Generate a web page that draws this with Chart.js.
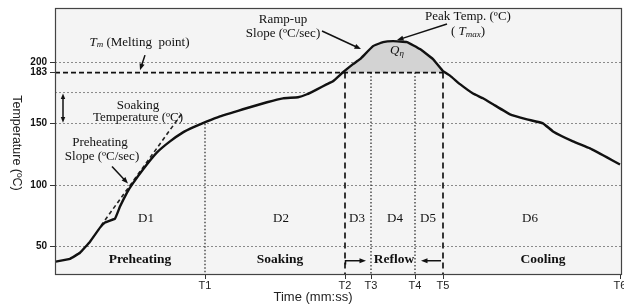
<!DOCTYPE html>
<html>
<head>
<meta charset="utf-8">
<script src="https://cdn.jsdelivr.net/npm/chart.js@4.4.1/dist/chart.umd.min.js"></script>
<style>
  body { margin: 0; background: #fff; }
</style>
</head>
<body>
<canvas id="chart" width="624" height="305"></canvas>
<script>
// time axis has no real units in the figure, so T marks are just positions along it
const timeMarks = [150, 290, 316, 360, 388, 565];
const timeLabels = ["T1", "T2", "T3", "T4", "T5", "T6"];

// the figure draws its "183" line higher than a true 183 would be, keep it where it is drawn
const MELT = 191.5;
const SOAK_TOP = 175.3;
const tempTicks = [50, 100, 150, MELT, 200];
const tempLabels = ["50", "100", "150", "183", "200"];

// reflow profile
const profileTime = [0, 15, 25, 35, 45, 50, 60, 65, 72, 77, 88, 102, 115, 128, 138, 152, 165, 178, 188,
  212, 228, 243, 252, 262, 272, 278, 288, 298, 305, 318, 328, 338, 352, 365, 378, 388, 395, 405,
  418, 428, 438, 455, 472, 488, 498, 518, 535, 552, 565];
const profileTemp = [37.8, 40.2, 45.1, 54.1, 65.5, 69.6, 72.8, 82.6, 94.0, 100.5, 112.8, 126.6, 135.6, 142.9, 147.0, 151.9, 156.0, 159.2, 161.7,
  167.4, 170.6, 171.5, 173.9, 177.9, 182.1, 184.5, 191.8, 198.4, 202.4, 213.0, 216.3, 217.1, 216.3, 210.6, 202.4, 192.7, 189.0, 182.1,
  174.5, 170.6, 165.8, 157.6, 153.5, 150.3, 143.7, 135.6, 129.9, 122.6, 116.8];

// preheating slope tangent
const tangentTime = [46, 127];
const tangentTemp = [67.1, 158.4];

// vertical markers: where each one starts at the top
const markerTop = [150, MELT, MELT, MELT, MELT];
const markerDashed = [false, true, false, false, true];

const serif = "'Liberation Serif', 'Times New Roman', serif";
const sans = "'Liberation Sans', Arial, sans-serif";

const notes = [
  { text: "Soaking", t: 83, v: 165 },
  { text: "Temperature (ºC)", t: 83, v: 155.3 },
  { text: "Preheating", t: 45, v: 134.8 },
  { text: "Slope (ºC/sec)", t: 47, v: 123.4 },
  { text: "Ramp-up", t: 228, v: 234.2 },
  { text: "Slope (ºC/sec)", t: 228, v: 223.6 },
  { text: "Peak Temp. (ºC)", t: 413, v: 236.7 },
  { text: "D1", t: 91, v: 72.8 },
  { text: "D2", t: 226, v: 72.8 },
  { text: "D3", t: 302, v: 72.8 },
  { text: "D4", t: 340, v: 72.8 },
  { text: "D5", t: 373, v: 72.8 },
  { text: "D6", t: 475, v: 72.8 },
  { text: "Preheating", t: 85, v: 39.4, bold: true },
  { text: "Soaking", t: 225, v: 39.4, bold: true },
  { text: "Reflow", t: 339, v: 39.4, bold: true },
  { text: "Cooling", t: 488, v: 39.4, bold: true }
];

const arrows = [
  [90, 205.7, 85, 193.5],
  [57, 115.2, 73, 101.4],
  [267, 225.3, 306, 210.6],
  [392, 231.0, 342, 217.9],
  [291, 38.6, 311, 38.6],
  [386, 38.6, 366, 38.6]
];

function pts(xs, ys) {
  return xs.map((x, i) => ({ x: x, y: ys[i] }));
}

const datasets = [];

datasets.push({
  data: pts(profileTime, profileTemp),
  borderColor: "#111",
  borderWidth: 2.4,
  tension: 0.08,
  pointRadius: 0,
  order: 0
});

// Q area between the curve and the 183 line
const areaTime = [timeMarks[1]];
const areaTemp = [MELT];
profileTime.forEach((t, i) => {
  if (t > timeMarks[1] && t < timeMarks[4]) {
    areaTime.push(t);
    areaTemp.push(profileTemp[i]);
  }
});
areaTime.push(timeMarks[4]);
areaTemp.push(MELT);
datasets.push({
  data: pts(areaTime, areaTemp),
  borderWidth: 0,
  borderColor: "rgba(0,0,0,0)",
  backgroundColor: "#d3d3d3",
  fill: { value: MELT },
  tension: 0.08,
  pointRadius: 0,
  order: 8
});

datasets.push({
  data: pts([0, timeMarks[4]], [MELT, MELT]),
  borderColor: "#111",
  borderWidth: 1.6,
  borderDash: [5, 3],
  pointRadius: 0,
  order: 3
});

datasets.push({
  data: pts([0, 250], [SOAK_TOP, SOAK_TOP]),
  borderColor: "#888",
  borderWidth: 1,
  borderDash: [2, 2],
  pointRadius: 0,
  order: 4
});

datasets.push({
  data: pts(tangentTime, tangentTemp),
  borderColor: "#222",
  borderWidth: 1.6,
  borderDash: [4, 3],
  pointRadius: 0,
  order: 2
});

timeMarks.slice(0, 5).forEach((t, i) => {
  datasets.push({
    data: pts([t, t], [markerTop[i], 27]),
    borderColor: "#222",
    borderWidth: markerDashed[i] ? 1.8 : 1.2,
    borderDash: markerDashed[i] ? [6, 4] : [1.5, 2],
    pointRadius: 0,
    order: 3
  });
});

function drawArrow(ctx, x1, y1, x2, y2, head) {
  const a = Math.atan2(y2 - y1, x2 - x1);
  ctx.beginPath();
  ctx.moveTo(x1, y1);
  ctx.lineTo(x2 - Math.cos(a) * head * 0.7, y2 - Math.sin(a) * head * 0.7);
  ctx.stroke();
  ctx.beginPath();
  ctx.moveTo(x2, y2);
  ctx.lineTo(x2 - head * Math.cos(a - 0.38), y2 - head * Math.sin(a - 0.38));
  ctx.lineTo(x2 - head * Math.cos(a + 0.38), y2 - head * Math.sin(a + 0.38));
  ctx.closePath();
  ctx.fill();
}

// text made of pieces with different fonts, centred on x
function drawRich(ctx, parts, x, y) {
  let w = 0;
  parts.forEach(p => { ctx.font = p.font; w += ctx.measureText(p.text).width; });
  let cx = x - w / 2;
  ctx.textAlign = "left";
  parts.forEach(p => {
    ctx.font = p.font;
    ctx.fillText(p.text, cx, y + (p.dy || 0));
    cx += ctx.measureText(p.text).width;
  });
  ctx.textAlign = "center";
}

const decor = {
  id: "decor",
  beforeDraw(chart) {
    const { ctx, chartArea: a } = chart;
    ctx.save();
    ctx.fillStyle = "#f4f4f4";
    ctx.fillRect(a.left, a.top, a.right - a.left, a.bottom - a.top);
    ctx.restore();
  },
  afterDraw(chart) {
    const { ctx, chartArea: a } = chart;
    const sx = chart.scales.x, sy = chart.scales.y;
    const X = t => sx.getPixelForValue(t);
    const Y = v => sy.getPixelForValue(v);
    ctx.save();

    ctx.strokeStyle = "#444";
    ctx.lineWidth = 1.2;
    ctx.strokeRect(a.left + 0.5, a.top + 0.5, a.right - a.left - 1, a.bottom - a.top - 1);

    ctx.fillStyle = "#111";
    ctx.textBaseline = "middle";
    ctx.textAlign = "center";
    notes.forEach(n => {
      ctx.font = (n.bold ? "bold 13.5px " : "13px ") + serif;
      ctx.fillText(n.text, X(n.t), Y(n.v));
    });

    drawRich(ctx, [
      { text: "T", font: "italic 13px " + serif },
      { text: "m", font: "italic 9px " + serif, dy: 3 },
      { text: " (Melting  point)", font: "13px " + serif }
    ], X(84.5), Y(216.3));
    drawRich(ctx, [
      { text: "( ", font: "13px " + serif },
      { text: "T", font: "italic 13px " + serif },
      { text: "max", font: "italic 9px " + serif, dy: 3 },
      { text: ")", font: "13px " + serif }
    ], X(413), Y(224.5));
    drawRich(ctx, [
      { text: "Q", font: "italic 13px " + serif },
      { text: "η", font: "italic 9px " + serif, dy: 3 }
    ], X(342), Y(209));

    ctx.strokeStyle = "#111";
    ctx.lineWidth = 1.5;
    arrows.forEach(r => drawArrow(ctx, X(r[0]), Y(r[1]), X(r[2]), Y(r[3]), 7));
    // little corner where the reflow arrow leaves T2
    ctx.beginPath();
    ctx.moveTo(X(timeMarks[1]) + 0.5, Y(35.5));
    ctx.lineTo(X(timeMarks[1]) + 0.5, Y(38.6));
    ctx.lineTo(X(291), Y(38.6));
    ctx.stroke();
    // soaking band double arrow
    const mid = (SOAK_TOP + 150) / 2;
    drawArrow(ctx, X(8), Y(mid), X(8), Y(SOAK_TOP) + 1, 6);
    drawArrow(ctx, X(8), Y(mid), X(8), Y(150) - 1, 6);

    ctx.textAlign = "center";
    ctx.font = "13px " + sans;
    ctx.fillStyle = "#222";
    ctx.fillText("Time (mm:ss)", 313, 297);
    ctx.translate(16, 143);
    ctx.rotate(Math.PI / 2);
    ctx.font = "12.5px " + sans;
    ctx.fillText("Temperature (ºC)", 0, 0);
    ctx.restore();
  }
};

new Chart(document.getElementById("chart"), {
  type: "line",
  data: { datasets: datasets },
  options: {
    responsive: false,
    animation: false,
    layout: { padding: { top: 8, right: 2, left: 0, bottom: 0 } },
    plugins: { legend: { display: false }, tooltip: { enabled: false } },
    scales: {
      x: {
        type: "linear",
        min: 0,
        max: 567,
        afterBuildTicks: s => { s.ticks = timeMarks.map(v => ({ value: v })); },
        afterFit: s => { s.height = 30; s.paddingLeft = 0; s.paddingRight = 0; },
        ticks: {
          autoSkip: false,
          maxRotation: 0,
          padding: 0,
          color: "#222",
          font: { family: sans, size: 11 },
          callback: (v, i) => timeLabels[i]
        },
        grid: { drawOnChartArea: false, tickLength: 4, color: "#333", tickColor: "#333" },
        border: { display: false }
      },
      y: {
        min: 27,
        max: 244,
        afterBuildTicks: s => { s.ticks = tempTicks.map(v => ({ value: v })); },
        afterFit: s => { s.width = 55; s.paddingTop = 0; s.paddingBottom = 0; },
        ticks: {
          autoSkip: false,
          padding: 3,
          color: "#111",
          font: { family: sans, size: 10, weight: "bold" },
          callback: (v, i) => tempLabels[i]
        },
        grid: {
          color: c => (c.tick && c.tick.value === MELT) ? "rgba(0,0,0,0)" : "#8a8a8a",
          lineWidth: 1,
          tickLength: 5,
          tickColor: "#333",
          tickBorderDash: []
        },
        border: { display: false, dash: [2, 2] }
      }
    }
  },
  plugins: [decor]
});
</script>
</body>
</html>
